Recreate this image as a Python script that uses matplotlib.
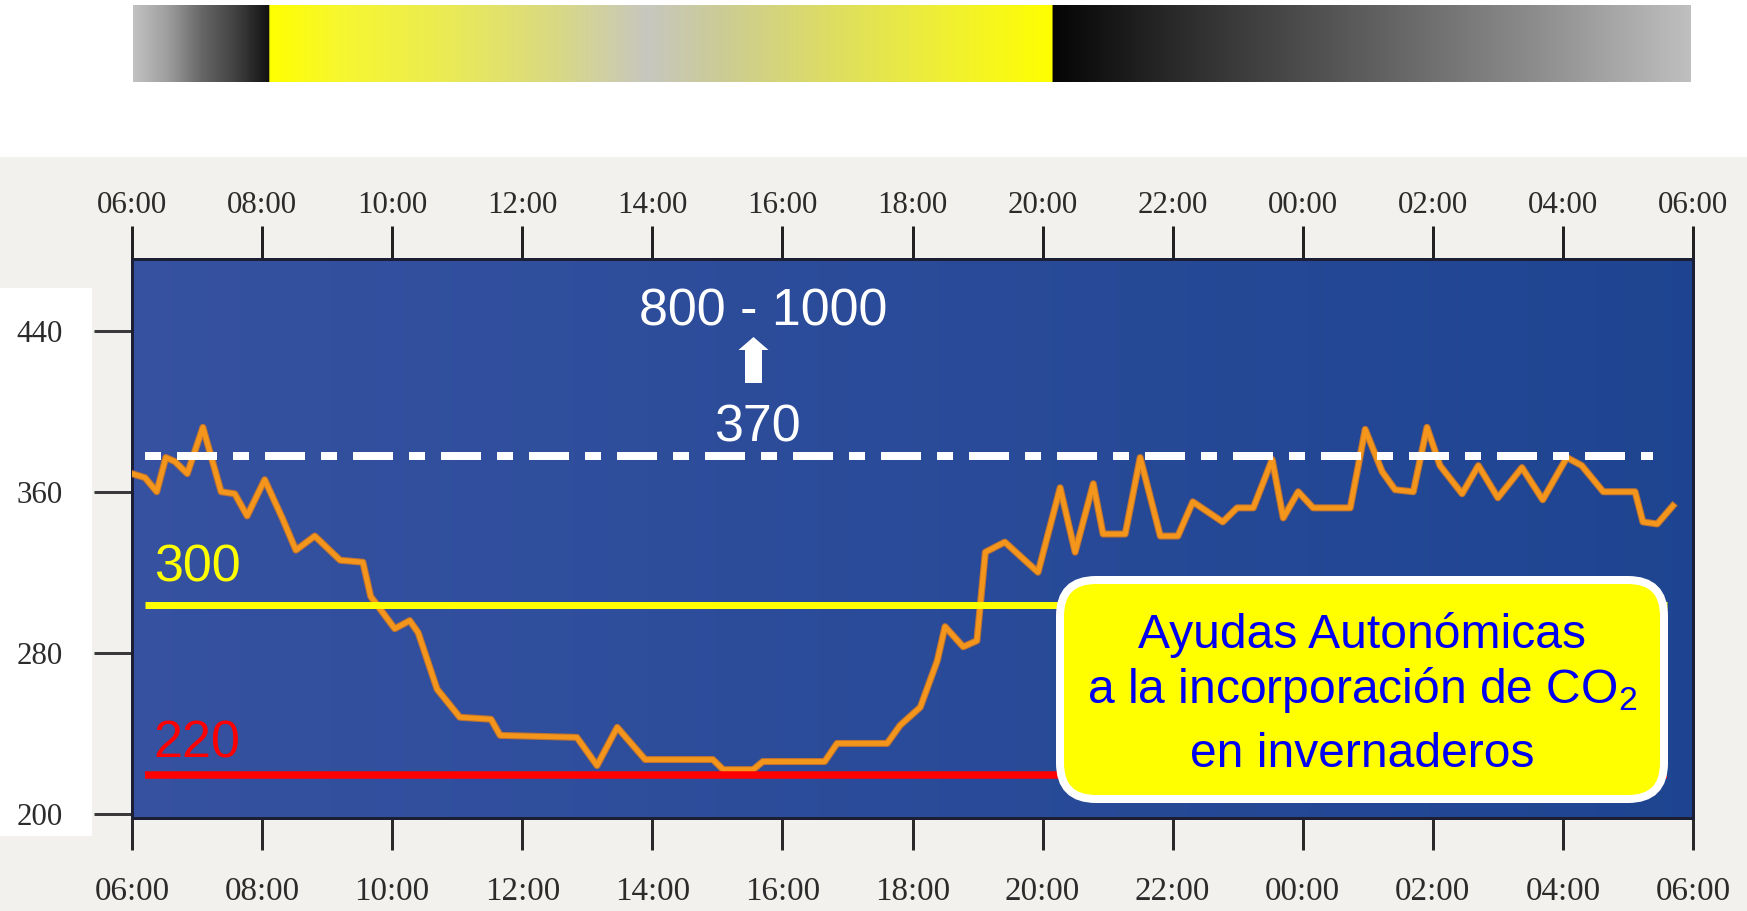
import numpy as np
import matplotlib
matplotlib.use("Agg")
import matplotlib.pyplot as plt
from matplotlib.patches import FancyBboxPatch, Polygon, Rectangle
import matplotlib.patheffects as pe

plt.rcParams['font.family'] = ['Liberation Sans', 'DejaVu Sans']
plt.rcParams['mathtext.fontset'] = 'custom'
plt.rcParams['mathtext.rm'] = 'Liberation Sans'
plt.rcParams['lines.scale_dashes'] = False

# CO2 concentration over one day, hours elapsed since 06:00
hours = [0.00, 0.20, 0.38, 0.52, 0.66, 0.85, 1.09, 1.37, 1.58, 1.77, 2.04, 2.31,
         2.52, 2.81, 3.20, 3.55, 3.67, 4.04, 4.27, 4.40, 4.69, 5.04, 5.52, 5.66,
         6.84, 7.15, 7.46, 7.89, 8.93, 9.09, 9.55, 9.70, 10.65, 10.84, 11.61, 11.81,
         12.12, 12.38, 12.50, 12.78, 12.99, 13.12, 13.42, 13.93, 14.27, 14.50, 14.78,
         14.93, 15.27, 15.50, 15.81, 16.08, 16.31, 16.77, 16.99, 17.24, 17.53, 17.70,
         17.93, 18.16, 18.73, 18.96, 19.22, 19.42, 19.70, 19.91, 20.11, 20.45, 20.70,
         21.00, 21.37, 21.69, 22.06, 22.29, 22.62, 23.11, 23.23, 23.45, 23.69]
co2_ppm = [369, 367, 360, 377, 375, 369, 392, 360, 359, 348, 366, 347,
           331, 338, 326, 325, 308, 292, 296, 290, 262, 248, 247, 239,
           238, 224, 243, 227, 227, 222, 222, 226, 226, 235, 235, 244,
           253, 276, 293, 283, 286, 330, 335, 320, 362, 330, 364,
           339, 339, 377, 338, 338, 355, 345, 352, 352, 376, 347,
           360, 352, 352, 391, 370, 361, 360, 392, 373, 359, 373,
           357, 372, 356, 377, 373, 360, 360, 345, 344, 353]

tick_hours = list(range(0, 25, 2))
tick_labels = ['06:00', '08:00', '10:00', '12:00', '14:00', '16:00', '18:00',
               '20:00', '22:00', '00:00', '02:00', '04:00', '06:00']
y_ticks = [200, 280, 360, 440]

ambient_ppm = 370
optimum_text = '800 - 1000'
good_ppm = 300
minimum_ppm = 220
box_lines = ['Ayudas Autonómicas',
             r'a la incorporación de CO$_\mathregular{2}$',
             'en invernaderos']

W, H, DPI = 1747, 911, 100
PX = 72 / DPI  # points per pixel

fig = plt.figure(figsize=(W / DPI, H / DPI), dpi=DPI, facecolor='white')


def rect(x0, y0, x1, y1):
    return [x0 / W, 1 - y1 / H, (x1 - x0) / W, (y1 - y0) / H]


# page background
bg = fig.add_axes([0, 0, 1, 1], zorder=0)
bg.set_xlim(0, W)
bg.set_ylim(H, 0)
bg.axis('off')
bg.add_patch(Rectangle((0, 157), W, H - 157, facecolor='#f2f1ed', edgecolor='none'))
bg.add_patch(Rectangle((0, 288), 92, 548, facecolor='white', edgecolor='none'))

# light cycle strip: night -> day -> night
strip_stops = [
    (0.000, (0.76, 0.76, 0.76)),
    (0.022, (0.62, 0.62, 0.62)),
    (0.044, (0.40, 0.40, 0.40)),
    (0.065, (0.26, 0.26, 0.26)),
    (0.087, (0.07, 0.07, 0.07)),
    (0.0875, (1.00, 1.00, 0.00)),
    (0.130, (0.97, 0.97, 0.18)),
    (0.200, (0.92, 0.92, 0.33)),
    (0.272, (0.85, 0.85, 0.52)),
    (0.330, (0.78, 0.78, 0.75)),
    (0.380, (0.80, 0.80, 0.58)),
    (0.451, (0.87, 0.87, 0.38)),
    (0.522, (0.94, 0.94, 0.20)),
    (0.590, (1.00, 1.00, 0.00)),
    (0.5905, (0.02, 0.02, 0.02)),
    (0.650, (0.13, 0.13, 0.13)),
    (0.720, (0.25, 0.25, 0.25)),
    (0.800, (0.38, 0.38, 0.38)),
    (0.900, (0.55, 0.55, 0.55)),
    (1.000, (0.75, 0.75, 0.75)),
]
strip = fig.add_axes(rect(133, 5, 1691, 82), zorder=1)
t = np.linspace(0, 1, 1558)
pos = [s[0] for s in strip_stops]
rgb = np.stack([np.interp(t, pos, [s[1][c] for s in strip_stops]) for c in range(3)], -1)
strip.imshow(rgb[None, :, :], aspect='auto', extent=[0, 1, 0, 1], interpolation='nearest')
strip.axis('off')

# main chart
Y0, Y1 = 197.96, 475.6
ax = fig.add_axes(rect(132, 259, 1693, 818), zorder=2)
u = np.linspace(0, 1, 256)
c_left = np.array([0.21, 0.32, 0.63])
c_right = np.array([0.12, 0.27, 0.57])
grad = c_left[None, :] * (1 - u[:, None]) + c_right[None, :] * u[:, None]
ax.imshow(grad[None], extent=[0, 24, Y0, Y1], aspect='auto', zorder=0,
          interpolation='bilinear')
ax.set_xlim(0, 24)
ax.set_ylim(Y0, Y1)

ax.plot(hours, co2_ppm, color='#f5961c', lw=4.8 * PX, solid_joinstyle='round',
        path_effects=[pe.Stroke(linewidth=7 * PX, foreground='#bf7430'), pe.Normal()],
        zorder=3)

serif = 'Liberation Serif'
label_color = '#2b2b2b'
ax.set_xticks(tick_hours)
ax.set_xticklabels(tick_labels, fontfamily=serif, fontsize=33 * PX, color=label_color)
ax.tick_params(axis='x', direction='out', length=32 * PX, width=3 * PX,
               color='#2a2a2a', pad=27 * PX)
ax.set_yticks(y_ticks)
ax.set_yticklabels([str(v) for v in y_ticks], fontfamily=serif, fontsize=31 * PX,
                   color=label_color)
ax.tick_params(axis='y', direction='out', length=38 * PX, width=3 * PX,
               color='#3a3a3a', pad=31 * PX)
for s in ax.spines.values():
    s.set_color('#1c1f33')
    s.set_linewidth(3 * PX)

top = ax.secondary_xaxis('top')
top.set_xticks(tick_hours)
top.set_xticklabels(tick_labels, fontfamily=serif, fontsize=31 * PX, color=label_color)
top.tick_params(direction='out', length=33 * PX, width=3 * PX, color='#222222',
                pad=6 * PX)
top.spines['top'].set_color('#1c1f33')
top.spines['top'].set_linewidth(3 * PX)

# reference levels
ov = fig.add_axes(rect(132, 259, 1693, 818), zorder=3)
ov.set_xlim(0, 24)
ov.set_ylim(199.55, 463.1)
ov.axis('off')
ov.plot([0.2, 23.39], [ambient_ppm, ambient_ppm], color='white', lw=8 * PX,
        dashes=(16 * PX, 16 * PX, 40 * PX, 16 * PX), dash_capstyle='butt')
ov.plot([0.2, 23.6], [good_ppm, good_ppm], color='#ffff00', lw=7 * PX,
        solid_capstyle='butt')
ov.plot([0.2, 23.6], [minimum_ppm, minimum_ppm], color='#ff0000', lw=7.5 * PX,
        solid_capstyle='butt')

# annotations
fg = fig.add_axes([0, 0, 1, 1], zorder=5)
fg.set_xlim(0, W)
fg.set_ylim(H, 0)
fg.axis('off')
fg.patch.set_alpha(0)

big = 52 * PX
fg.text(154, 582, str(good_ppm), color='#ffff00', fontsize=big, ha='left', va='baseline')
fg.text(153, 757, str(minimum_ppm), color='#ff0000', fontsize=big, ha='left', va='baseline')
fg.text(757, 442, str(ambient_ppm), color='white', fontsize=big, ha='center', va='baseline')
fg.text(763, 325, optimum_text, color='white', fontsize=big, ha='center', va='baseline')
fg.add_patch(Polygon([(745, 383), (762, 383), (762, 350), (768.5, 350), (753.5, 337),
                      (738.5, 350), (745, 350)], closed=True, facecolor='white',
                     edgecolor='none'))

fg.add_patch(FancyBboxPatch((1060, 580), 604, 219,
                            boxstyle='round,pad=0,rounding_size=36',
                            facecolor='#ffff00', edgecolor='white', lw=8 * PX))
box_fs = 48 * PX
for txt, base in zip(box_lines, [648, 703, 767]):
    fg.text(1362, base, txt, color='#0000f0', fontsize=box_fs, ha='center',
            va='baseline')

fig.savefig('out.png', dpi=DPI, facecolor=fig.get_facecolor())
